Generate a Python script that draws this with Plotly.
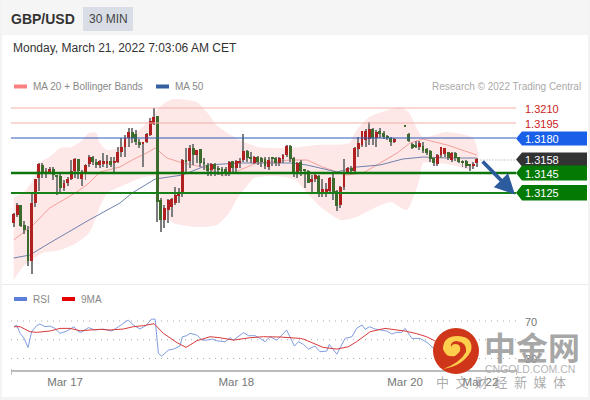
import plotly.graph_objects as go

W, H = 590, 400

# ---------- data (prices in 1/10000 units) ----------
open_pips = [13095,13103,13113,13093,13088,13057,13115,13140,13153,13145,13145,13149,13142,13142,13130,13135,13139,13147,13159,13139,
13146,13154,13161,13156,13153,13154,13154,13157,13155,13156,13166,13171,13180,13186,13184,13176,13174,13176,13183,13194,
13202,13118,13098,13108,13111,13115,13122,13126,13158,13157,13170,13163,13169,13155,13153,13148,13154,13150,13149,13149,
13146,13157,13150,13155,13158,13167,13161,13155,13161,13160,13159,13151,13160,13160,13155,13159,13163,13172,13160,13145,
13156,13148,13147,13136,13139,13142,13126,13126,13127,13140,13127,13113,13131,13145,13150,13147,13169,13173,13178,13179,
13189,13180,13187,13185,13181,13180,13176,None,None,13193,13184,13174,13173,13171,13172,13169,13167,13160,13154,13163,
13164,13166,13158,13165,13161,13157,13157,13153,13152,13155]
high_pips = [13105,13115,13113,13097,13092,13125,13139,13155,13155,13150,13151,13151,13143,13144,13138,13141,13158,13160,13159,13148,
13154,13163,13162,13159,13158,13165,13163,13161,13161,13171,13180,13183,13190,13190,13188,13179,13176,13185,13200,13210,
13202,13120,13113,13119,13120,13131,13130,13159,13170,13173,13174,13168,13169,13160,13155,13155,13155,13152,13151,13151,
13157,13157,13158,13160,13184,13168,13166,13162,13162,13161,13161,13161,13161,13161,13161,13164,13173,13173,13161,13156,
13158,13149,13148,13143,13144,13143,13139,13135,13141,13144,13128,13132,13159,13151,13152,13171,13181,13187,13189,13196,
13190,13188,13190,13187,13183,13181,13180,None,None,13193,13185,13175,13177,13177,13176,13170,13168,13161,13164,13171,
13170,13166,13166,13166,13161,13158,13158,13154,13156,13160]
low_pips = [13091,13101,13091,13084,13052,13044,13111,13127,13140,13140,13144,13138,13123,13125,13127,13132,13138,13140,13139,13132,
13138,13151,13153,13150,13150,13151,13150,13151,13146,13155,13161,13161,13171,13175,13173,13170,13151,13175,13182,13193,
13096,13086,13090,13095,13101,13113,13115,13121,13145,13150,13153,13155,13151,13148,13142,13142,13142,13143,13142,13142,
13142,13146,13146,13150,13156,13156,13155,13154,13153,13151,13149,13148,13152,13152,13152,13155,13161,13156,13141,13140,
13142,13130,13135,13126,13136,13121,13121,13121,13125,13118,13107,13110,13128,13144,13146,13146,13161,13171,13171,13173,
13173,13171,13180,13179,13178,13172,13175,None,None,13191,13176,13169,13170,13168,13165,13163,13156,13152,13152,13160,
13161,13158,13156,13157,13155,13151,13150,13147,13149,13151]
close_pips = [13104,13113,13092,13088,13057,13115,13139,13154,13144,13146,13149,13143,13141,13130,13135,13139,13147,13159,13147,13144,
13153,13161,13156,13153,13157,13157,13157,13153,13157,13166,13171,13180,13186,13180,13176,13173,13176,13184,13197,13201,
13116,13098,13110,13118,13119,13123,13126,13158,13156,13170,13163,13168,13155,13154,13147,13154,13149,13148,13147,13146,
13156,13150,13157,13157,13167,13160,13159,13161,13156,13156,13152,13158,13159,13155,13160,13163,13172,13159,13145,13155,
13147,13147,13135,13139,13143,13126,13129,13129,13140,13126,13112,13131,13145,13150,13147,13170,13175,13187,13187,13189,
13180,13186,13184,13181,13180,13176,13179,None,None,13191,13177,13170,13171,13175,13167,13165,13159,13155,13163,13171,
13170,13160,13165,13160,13156,13155,13152,13152,13154,13159]

upper_x = [0,2.6,5.4,7,10,13,16,18.5,21,23,24,26,29,31,34,37,40,42,44.5,51,54,56.5,59.5,63,68,77,84.5,93.5,95.5,99,102.5,107.5,110,114,120.5,128,129.5]
upper_pips = [13121,13125,13138,13155,13161,13170,13171,13176,13185,13185,13175,13168,13170,13178,13185,13195,13208,13215,13219,13216,13205,13193,13185,13178,13171,13170,13173,13175,13188,13201,13206,13211,13206,13181,13186,13180,13160]
lower_x = [0,2.6,8,13,17.5,21,23,24,26,29.5,34,38,40,41,42,44.5,51,56.5,60,62,64.5,67,73,78.5,81,85.5,91,95.5,101,105,109.5,113,114,118,122.5,127,129]
lower_pips = [13038,13051,13065,13068,13075,13085,13101,13111,13125,13131,13138,13142,13140,13118,13104,13095,13091,13093,13105,13118,13130,13140,13142,13138,13128,13111,13098,13101,13111,13116,13108,13138,13155,13155,13153,13148,13158]
ma20_x = [0,2.6,5.4,10,17.6,21,24,29.6,33,37,39.4,42.7,47,54,58.3,61,67.7,77,81.7,86,92.8,97.3,102,106.8,110.4,114,120.7,129]
ma20_pips = [13078,13085,13093,13110,13126,13135,13146,13151,13158,13165,13170,13160,13155,13150,13142,13145,13155,13158,13158,13151,13143,13145,13155,13165,13175,13179,13173,13163]
ma50_x = [0,4.5,10,21,29.6,33,39.4,47,54,63,77,81.7,90,95.6,102,108.4,114,120.7,129]
ma50_pips = [13060,13063,13075,13098,13115,13125,13139,13143,13153,13155,13155,13153,13146,13151,13153,13159,13161,13160,13160]

rsi_x = [0.1,0.8,1.8,2.9,4,5,6.4,7.3,8.7,10.1,11.5,12.9,14.8,16.8,18,18.9,20.8,22.7,25,27.3,29.2,31.9,33.3,35.2,37,38.4,39.4,40.3,41.2,43.1,44.5,46.3,47,48.2,49.1,51,52.4,53.8,55.2,56.5,58.9,60.3,61.2,64,65.4,67.2,68.6,70,71.4,73.3,74.7,76,78.2,79.3,80.7,82.1,83.9,85.3,87.2,87.9,90,92.3,94.2,95.5,97,97.9,99.1,100.7,103.9,105.3,106.7,108.1,109,110.9,113.2,115.5,117.4,122,129]
rsi_val = [63.9,65.7,56.8,51.4,41.8,58.6,65,66.8,63.9,64.6,62.1,56.8,59.3,63.9,58.6,57.9,62.9,60.4,61.4,59.3,63.9,71.1,65.7,61.4,65.7,72.1,71.8,35.4,32.5,38.9,40,43.2,53.2,54.3,56.8,55,49.6,49.6,50.7,48.9,47.9,52.2,49.6,57.5,54.3,54.3,51.4,47.9,53.2,49.6,55,60.4,43.2,47.9,45,40,43.2,37.2,37.9,45,34.6,51.4,53.2,62.1,65.7,61.1,63.9,61.4,59.3,56.1,57.9,57.9,62.1,51.4,51.4,46.1,39,42,45]
ma9_x = [0.1,1.8,4.5,6.4,10.1,12.9,15.7,18.5,24,26.8,30.5,33.3,36.1,39.1,41.7,45.4,48,51,54.7,57.5,61.2,65.8,69.5,74.2,79.8,80.7,86.2,90,93.2,95.5,99.3,103.4,106.7,109,112.3,115,117.4,122,129]
ma9_val = [63.9,63.9,58.6,57.9,59.3,62.1,62.1,59.6,61.1,60.4,61.4,63.9,65,67.1,56.8,47.1,41.8,48.9,53.2,52.1,49.6,52.1,53.2,52.9,51.4,50.7,41.8,40,42.5,47.9,58.6,62.1,60.4,59.3,56.4,53.2,48.6,44,42]

res_levels = [1.3210, 1.3195]
pivot_level = [1.3180]
current_price = [1.3158]
sup_levels = [1.3145, 1.3125]
rsi_levels = [70, 50, 30]
tick_vals = [14.3, 62, 109, 130]
tick_text = ["Mar 17", "Mar 18", "Mar 20", "Mar 22"]

# ---------- helpers ----------
def px(x): return x / W
def py(y): return 1 - y / H
def conv(v): return [None if a is None else a / 10000 for a in v]
FONT = "Liberation Sans, Arial, sans-serif"
XR = [-0.75, 139.9]
YR = [1.3035, 1.3223]

o, h, l, c = conv(open_pips), conv(high_pips), conv(low_pips), conv(close_pips)
idx = list(range(len(o)))
base = [None if a is None else min(a, b) for a, b in zip(o, c)]
size = [None if a is None else max(abs(a - b), 0.00012) for a, b in zip(o, c)]
cols = ["#b02020" if (a is not None and b >= a) else "#3d6b2c" for a, b in zip(o, c)]
wick_size = [None if a is None else a - b for a, b in zip(h, l)]

fig = go.Figure()

# Bollinger envelope and averages: base axes, drawn underneath
fig.add_trace(go.Scatter(x=upper_x + lower_x[::-1], y=conv(upper_pips) + conv(lower_pips)[::-1],
                         mode="lines", fill="toself", fillcolor="#fee7e7",
                         line=dict(color="#fee7e7", width=0, shape="spline", smoothing=0.6), hoverinfo="skip"))
fig.add_trace(go.Scatter(x=ma20_x, y=conv(ma20_pips), mode="lines", line=dict(color="#f3a09c", width=1)))
fig.add_trace(go.Scatter(x=ma50_x, y=conv(ma50_pips), mode="lines", line=dict(color="#6f82ad", width=1)))

# candles: overlay axes
fig.add_trace(go.Bar(x=idx, base=l, y=wick_size, width=0.28, xaxis="x3", yaxis="y3", marker=dict(color="#7d7d7d", line_width=0)))
fig.add_trace(go.Bar(x=idx, base=base, y=size, width=0.8, xaxis="x3", yaxis="y3", marker=dict(color=cols, line_width=0)))

# horizontal levels
def level(xs, ys, **line):
    fig.add_trace(go.Scatter(x=xs, y=ys, xaxis="x3", yaxis="y3", mode="lines", line=line))
for lv in res_levels:
    level(XR, [lv, lv], color="#f4b0aa", width=1.1)
level(XR, pivot_level * 2, color="#2a5cb8", width=1)
level([130, XR[1]], current_price * 2, color="#999999", width=1, dash="1px 2px")
level(XR, [sup_levels[0]] * 2, color="#0b740b", width=2.4)
level(XR, [sup_levels[1]] * 2, color="#178017", width=2)

# RSI pane
for lv in rsi_levels:
    fig.add_trace(go.Scatter(x=[XR[0], XR[1]], y=[lv, lv], xaxis="x2", yaxis="y2", mode="lines",
                             line=dict(color="#aaaaaa", width=1, dash="1px 5px")))
fig.add_trace(go.Scatter(x=rsi_x, y=rsi_val, xaxis="x2", yaxis="y2", mode="lines", line=dict(color="#7f9ddf", width=1)))
fig.add_trace(go.Scatter(x=ma9_x, y=ma9_val, xaxis="x2", yaxis="y2", mode="lines", line=dict(color="#d93a3a", width=1)))

shapes, ann = [], []

def rect(x0, y0, x1, y1, color, layer="below"):
    shapes.append(dict(type="rect", xref="paper", yref="paper", x0=px(x0), x1=px(x1), y0=py(y0), y1=py(y1),
                       fillcolor=color, line_width=0, layer=layer))

def text(x, y, s, size=10, color="#888888", anchor="left", family=FONT, bold=False):
    ann.append(dict(xref="paper", yref="paper", x=px(x), y=py(y), text=f"<b>{s}</b>" if bold else s, showarrow=False,
                    xanchor=anchor, yanchor="middle", font=dict(size=size, color=color, family=family),
                    borderpad=0, borderwidth=0))

def path(points, color, layer="above"):
    parts = []
    for p in points:
        if isinstance(p, str):
            parts.append(p)
        else:
            parts.append(f"{px(p[0]):.5f},{py(p[1]):.5f}")
    shapes.append(dict(type="path", xref="paper", yref="paper", path=" ".join(parts), fillcolor=color, line_width=0, layer=layer))

# page furniture
rect(0, 0, 590, 35, "#f5f5f5")
rect(0, 0, 2, 400, "#f3f3f3")
rect(0, 397, 590, 400, "#f3f3f3")
rect(588, 0, 590, 400, "#f3f3f3")
rect(83, 7, 133, 31, "#d9dde6")
rect(2, 284, 588, 285, "#ececec")
text(11, 19, "GBP/USD", 14, "#333333", bold=True)
text(108, 19.5, "30 MIN", 12, "#444444", anchor="center")
text(13, 48.5, "Monday, March 21, 2022 7:03:06 AM CET", 12, "#333333")

# legends
rect(14, 84.5, 27, 88.5, "#ff8080")
text(33, 86.5, "MA 20 + Bollinger Bands")
rect(156, 84.5, 169, 88.5, "#34609f")
text(175, 86.5, "MA 50")
text(581, 86.5, "Research © 2022 Trading Central", 10, "#aaaaaa", anchor="right")
rect(14, 297, 27, 301, "#5b7fdb")
text(33, 299, "RSI")
rect(62, 297, 75, 301, "#e60000")
text(81, 299, "9MA")

# level tags
def tag(y0, y1, color):
    m = (y0 + y1) / 2
    path(["M", (516, m), "L", (522, y0), "L", (587, y0), "L", (587, y1), "L", (522, y1), "Z"], color)

text(525, 108.5, f"{res_levels[0]:.4f}", 11, "#cc2222")
text(525, 123.5, f"{res_levels[1]:.4f}", 11, "#cc2222")
for y0, y1, col, val in [(131.5, 145.5, "#1a5fe8", pivot_level[0]),
                         (152.5, 166.5, "#333333", current_price[0]),
                         (165.5, 180.5, "#037a03", sup_levels[0]),
                         (185, 200.5, "#037a03", sup_levels[1])]:
    tag(y0, y1, col)
    text(525, (y0 + y1) / 2 + 0.5, f"{val:.4f}", 11, "#ffffff")

# arrow
ann.append(dict(x=139.6, y=1.31235, xref="x3", yref="y3", ax=130.2, ay=current_price[0], axref="x3", ayref="y3",
                text="", showarrow=True, arrowhead=2, arrowsize=1.05, arrowwidth=3.8, arrowcolor="#2c5b9e"))

# RSI labels & axis ends
text(531, 321.5, "70", 11, "#777777", anchor="center")
text(531, 359, "30", 11, "#777777", anchor="center")
rect(11, 369, 12, 375, "#bbbbbb")
rect(516, 369, 517, 375, "#bbbbbb")

# watermark
shapes.append(dict(type="circle", xref="paper", yref="paper", x0=px(433), x1=px(479), y0=py(374), y1=py(328),
                   fillcolor="#cf3518", line_width=0, layer="above"))
path(["M", (443, 369), "Q", (463, 366), (471, 351), "Q", (474, 337), (458, 336), "Q", (443, 336), (443, 349),
      "Q", (446, 358), (455, 356), "Q", (463, 351), (459, 345), "Q", (453, 342), (451, 347), "Q", (450, 342), (456, 341),
      "Q", (467, 342), (466, 352), "Q", (460, 363), (443, 369), "Z"], "#fdcf4d")
text(484, 346, "中金网", 32, "rgba(155,155,155,0.9)", family="Noto Sans CJK SC", bold=True)
text(485, 368.5, "CNGOLD.COM.CN", 10.5, "rgba(170,170,170,0.9)", family="Liberation Sans")
text(436, 381.5, "中\u2002文\u2002财\u2002经\u2002新\u2002媒\u2002体", 13, "rgba(150,150,150,0.8)", family="Noto Sans CJK SC")

hidden_x = dict(domain=[px(11), px(516)], range=XR, visible=False, fixedrange=True)
hidden_y = dict(domain=[py(283), py(95)], range=YR, visible=False, fixedrange=True)
fig.update_layout(
    width=W, height=H, margin=dict(l=0, r=0, t=0, b=0, pad=0), paper_bgcolor="white", plot_bgcolor="rgba(0,0,0,0)",
    showlegend=False, barmode="overlay", hovermode=False, bargap=0,
    xaxis=hidden_x,
    yaxis=hidden_y,
    xaxis3=dict(hidden_x, overlaying="x", anchor="y3"),
    yaxis3=dict(hidden_y, overlaying="y", anchor="x3"),
    xaxis2=dict(domain=[px(11), px(516)], range=XR, anchor="y2", tickmode="array", tickvals=tick_vals, ticktext=tick_text,
                ticks="", showgrid=False, zeroline=False, showline=True, linecolor="#bbbbbb", linewidth=2,
                tickfont=dict(size=11.5, color="#777777", family=FONT), fixedrange=True),
    yaxis2=dict(domain=[py(370), py(300)], range=[17.7, 92.4], visible=False, fixedrange=True),
    shapes=shapes, annotations=ann,
)

fig.write_html("out.html", config={"displayModeBar": False},
               post_script="document.body.style.margin='0';document.body.style.overflow='hidden';")
